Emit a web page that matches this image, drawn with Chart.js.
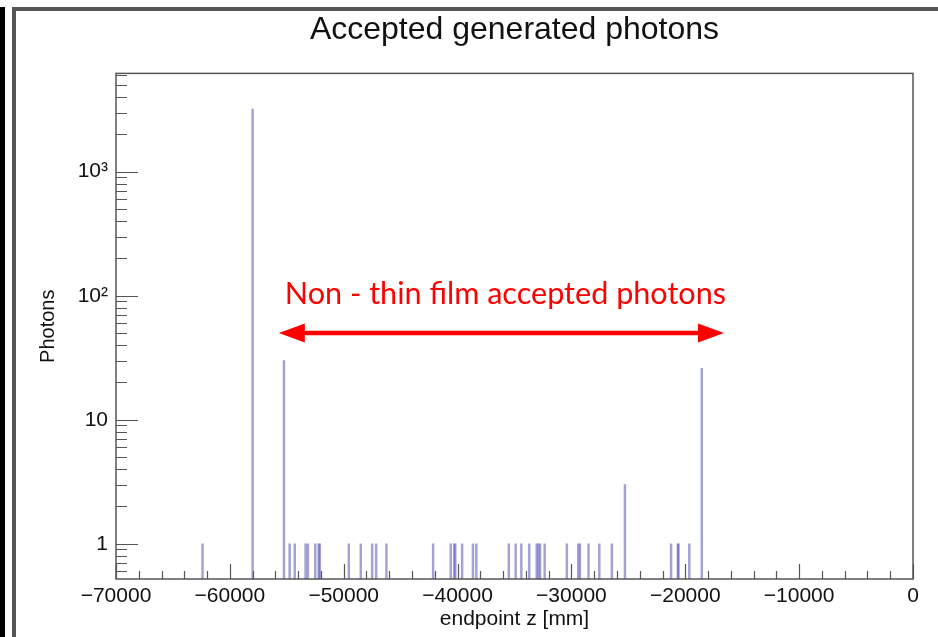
<!DOCTYPE html>
<html>
<head>
<meta charset="utf-8">
<title>Accepted generated photons</title>
<script src="https://cdn.jsdelivr.net/npm/chart.js@4/dist/chart.umd.min.js"></script>
<style>
html, body { margin: 0; padding: 0; background: #fff; }
#wrap { width: 938px; height: 637px; }
</style>
</head>
<body>
<div id="wrap"><canvas id="myChart"></canvas></div>
<script>
// endpoint z of the accepted photons [mm] and the counts in each bin
var zPositions = [-62400, -58000, -55250, -54750, -54300, -53350, -53150, -52500, -52200, -52100,
    -49550, -48500, -47500, -47150, -46250, -42150, -40600, -40300, -40200, -39600,
    -38650, -38350, -35500, -34900, -34400, -33700, -33050, -32900, -32750, -32350,
    -30400, -29400, -29250, -28500, -27550, -26450, -25300, -21250, -20650, -20600,
    -19650, -18550];
var photonCounts = [1, 3200, 30, 1, 1, 1, 1, 1, 1, 1,
    1, 1, 1, 1, 1, 1, 1, 1, 1, 1,
    1, 1, 1, 1, 1, 1, 1, 1, 1, 1,
    1, 1, 1, 1, 1, 1, 3, 1, 1, 1,
    1, 26];

// axis ticks
var xTicks = [-70000, -60000, -50000, -40000, -30000, -20000, -10000, 0];
var yTicks = [1, 10, 100, 1000];
var yTickLabels = ['1', '10', '10²', '10³'];

// annotation (data coordinates)
var noteText = 'Non - thin film accepted photons';
var arrowFrom = -55700;
var arrowTo = -16600;
var arrowY = 50;
var noteX = -35800;
var noteY = 86;

var sans = '"Liberation Sans", Arial, Helvetica, sans-serif';
Chart.defaults.font.family = sans;
Chart.defaults.color = '#000';

var points = [];
for (var i = 0; i < zPositions.length; i++) {
    points.push({ x: zPositions[i], y: photonCounts[i] });
}

// white page, the two frame lines on the left and top
var backdrop = {
    id: 'backdrop',
    beforeDraw: function (chart) {
        var c = chart.ctx;
        c.save();
        c.fillStyle = '#fff';
        c.fillRect(0, 0, chart.width, chart.height);
        c.fillStyle = '#000';
        c.fillRect(0, 7, 5, chart.height - 7);
        c.strokeStyle = '#555';
        c.lineWidth = 4;
        c.beginPath();
        c.moveTo(14, chart.height);
        c.lineTo(14, 9);
        c.lineTo(chart.width, 9);
        c.stroke();
        c.restore();
    }
};

// ROOT-like frame with ticks pointing inwards
var rootFrame = {
    id: 'rootFrame',
    afterDatasetsDraw: function (chart) {
        var c = chart.ctx;
        var a = chart.chartArea;
        var x = chart.scales.x;
        var y = chart.scales.y;
        c.save();
        c.strokeStyle = '#555';
        c.lineWidth = 1.5;
        c.strokeRect(a.left, a.top, a.right - a.left, a.bottom - a.top);

        c.lineWidth = 1.2;
        c.beginPath();
        for (var d = 0.1; d < 10000; d *= 10) {
            for (var k = 1; k <= 9; k++) {
                var v = k * d;
                if (v < y.min || v > y.max) continue;
                var py = Math.round(y.getPixelForValue(v)) + 0.5;
                var len = k === 1 ? 22 : 11;
                c.moveTo(a.left, py);
                c.lineTo(a.left + len, py);
            }
        }
        for (var xv = -70000; xv <= 0; xv += 2000) {
            var px = Math.round(x.getPixelForValue(xv)) + 0.5;
            var xl = xv % 10000 === 0 ? 15 : 8;
            c.moveTo(px, a.bottom);
            c.lineTo(px, a.bottom - xl);
        }
        c.stroke();
        c.restore();
    }
};

// red note with a double arrow
var note = {
    id: 'note',
    afterDraw: function (chart) {
        var c = chart.ctx;
        var x = chart.scales.x;
        var y = chart.scales.y;
        var x1 = x.getPixelForValue(arrowFrom);
        var x2 = x.getPixelForValue(arrowTo);
        var ay = y.getPixelForValue(arrowY);
        var head = 26;
        c.save();
        c.fillStyle = '#ff0000';
        c.strokeStyle = '#ff0000';
        c.lineWidth = 4.5;
        c.beginPath();
        c.moveTo(x1 + head - 2, ay);
        c.lineTo(x2 - head + 2, ay);
        c.stroke();
        c.beginPath();
        c.moveTo(x1, ay);
        c.lineTo(x1 + head, ay - 9.5);
        c.lineTo(x1 + head, ay + 9.5);
        c.closePath();
        c.moveTo(x2, ay);
        c.lineTo(x2 - head, ay - 9.5);
        c.lineTo(x2 - head, ay + 9.5);
        c.closePath();
        c.fill();

        c.font = '30px Lato, "Noto Sans", sans-serif';
        var w = c.measureText(noteText).width;
        var size = 30 * 441 / w;
        c.font = size.toFixed(1) + 'px Lato, "Noto Sans", sans-serif';
        c.textAlign = 'center';
        c.textBaseline = 'alphabetic';
        c.fillText(noteText, x.getPixelForValue(noteX), y.getPixelForValue(noteY));
        c.restore();
    }
};

var ctx = document.getElementById('myChart').getContext('2d');
var myChart = new Chart(ctx, {
    type: 'bar',
    data: {
        datasets: [{
            label: 'Photons',
            data: points,
            backgroundColor: 'rgba(85, 85, 180, 0.55)',
            borderWidth: 0,
            barThickness: 1.8
        }]
    },
    options: {
        responsive: true,
        maintainAspectRatio: false,
        animation: false,
        layout: { padding: { left: 0, top: 0, right: 25, bottom: 0 } },
        plugins: {
            legend: { display: false },
            tooltip: { enabled: false },
            title: {
                display: true,
                text: 'Accepted generated photons',
                fullSize: false,
                color: '#111',
                font: { size: 32, weight: 'normal' },
                padding: { top: 11, bottom: 24 }
            }
        },
        scales: {
            x: {
                type: 'linear',
                min: -70000,
                max: 0,
                offset: false,
                grid: { display: false, drawTicks: false, offset: false },
                border: { display: false },
                afterBuildTicks: function (s) {
                    s.ticks = xTicks.map(function (v) { return { value: v }; });
                },
                afterFit: function (s) { s.height = 58; },
                ticks: {
                    autoSkip: false,
                    maxRotation: 0,
                    padding: 5,
                    color: '#111',
                    font: { size: 21 },
                    callback: function (v) {
                        return v < 0 ? '\u2212' + Math.abs(v) : '0';
                    }
                },
                title: {
                    display: true,
                    text: 'endpoint z [mm]',
                    color: '#111',
                    font: { size: 21 },
                    padding: { top: 0, bottom: 5 }
                }
            },
            y: {
                type: 'logarithmic',
                min: 0.52,
                max: 6200,
                bounds: 'data',
                grid: { display: false, drawTicks: false },
                border: { display: false },
                afterBuildTicks: function (s) {
                    s.ticks = yTicks.map(function (v) { return { value: v }; });
                },
                afterFit: function (s) { s.width = 116; },
                ticks: {
                    padding: 8,
                    color: '#111',
                    font: { size: 21 },
                    callback: function (v) {
                        var i = yTicks.indexOf(v);
                        return i >= 0 ? yTickLabels[i] : '';
                    }
                },
                title: {
                    display: true,
                    text: 'Photons',
                    color: '#111',
                    font: { size: 20 },
                    padding: { top: 36, bottom: 0 }
                }
            }
        }
    },
    plugins: [backdrop, rootFrame, note]
});
</script>
</body>
</html>
